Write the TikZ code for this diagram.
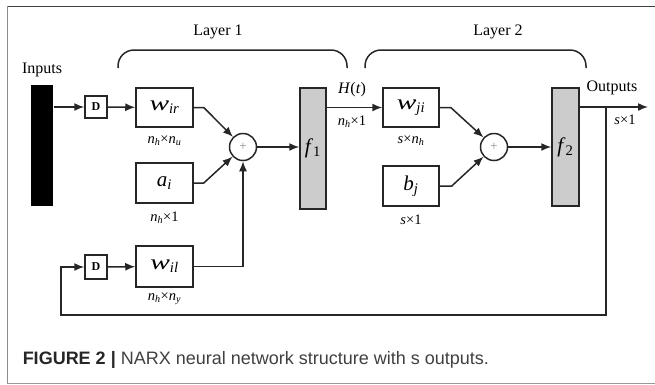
\documentclass[tikz,border=0pt]{standalone}
\usepackage{fontspec}
\setmainfont{Liberation Serif}
\newfontfamily\capfont{Liberation Sans}
\usepackage{graphicx}
\usetikzlibrary{arrows.meta}
\usetikzlibrary{positioning}

\newcommand{\vsub}[2]{\textit{#1}\textsubscript{\textit{#2}}}
\newcommand{\wideW}{\scalebox{1.4}[1]{\textit{w}}}

\begin{document}
\begin{tikzpicture}[x=1pt,y=-1pt,>={Latex[length=10pt,width=8pt]},line width=1.5pt,
                    draw=black!85,node distance=6pt,
                    every node/.style={font=\fontsize{16}{18}\selectfont}]
  \tikzstyle{block}=[draw,minimum width=57pt,minimum height=40pt,inner sep=0pt,font=\fontsize{21}{24}\selectfont]
  \tikzstyle{delay}=[draw,minimum width=22pt,minimum height=22pt,inner sep=0pt,font=\bfseries\fontsize{12}{14}\selectfont]
  \tikzstyle{sum}=[draw,circle,minimum size=27pt,inner sep=0pt,text=black!45,font=\fontsize{13}{14}\selectfont]
  \tikzstyle{func}=[draw,fill=black!20,minimum width=26pt,minimum height=120pt,inner sep=0pt,font=\fontsize{21}{22}\selectfont]
  \tikzstyle{dim}=[inner sep=1pt,font=\fontsize{14.5}{16}\selectfont]
  \tikzstyle{brace}=[rounded corners=16pt]

  \useasboundingbox (0,0) rectangle (655,384);
  \draw[line width=1pt,black!75] (655,6) -- (7,6);
  \draw[line width=1pt,black!45] (7,6) -- (7,383);
  \draw[line width=1pt,black!40] (7,383) -- (655,383);

  % layer 1
  \node[fill=black,minimum width=22pt,minimum height=121pt,inner sep=0pt] (bar) at (42,145.5) {};
  \node (inlbl) at (42,70) {Inputs};
  \node[delay] (D1) at (96,107) {D};
  \node[block,minimum height=39pt] (wir) at (164.5,107.5) {\wideW\textsubscript{\textit{ir}}};
  \node[block] (ai) at (164.5,183) {\vsub{a}{i}};
  \node[block,minimum height=41pt] (wil) at (164.5,266.5) {\wideW\textsubscript{\textit{il}}};
  \node[delay,minimum height=24pt] (D2) at (96,267) {D};
  \node[sum] (sum1) at (243,147) {+};
  \node[func,minimum height=121pt] (f1) at (313,148.5) {\vsub{f}{\upshape 1}};
  \node[dim,below=of wir] (wirdim) {\vsub{n}{h}×\vsub{n}{u}};
  \node[dim,below=of ai] (aidim) {\vsub{n}{h}×1};
  \node[dim,below=3pt of wil] (wildim) {\vsub{n}{h}×\vsub{n}{y}};

  % layer 2
  \node[block,minimum width=56pt,minimum height=39pt] (wji) at (411,107.5) {\wideW\textsubscript{\textit{ji}}};
  \node[block,minimum width=56pt] (bj) at (411,186) {\vsub{b}{j}};
  \node[sum] (sum2) at (494,147) {+};
  \node[func,minimum width=27pt,minimum height=118pt] (f2) at (565.5,147) {\vsub{f}{\upshape 2}};
  \node[dim,below=of wji] (wjidim) {\textit{s}×\vsub{n}{h}};
  \node[dim,below=of bj] (bjdim) {\textit{s}×1};
  \node (Ht) at (352,90) {\textit{H}(\textit{t})};
  \node[dim] (Htdim) at (352,122) {\vsub{n}{h}×1};
  \node (outlbl) at (612,88) {Outputs};
  \node[dim] (outdim) at (625,120) {\textit{s}×1};

  \node (lay1) at (218,32) {Layer 1};
  \node (lay2) at (498,32) {Layer 2};
  \draw[brace] (118,68) -- (118,50) -- (347,50) -- (347,68);
  \draw[brace] (365,68) -- (365,50) -- (586,50) -- (586,68);

  % connectors
  \coordinate (out) at (648,107);
  \coordinate (tap) at (606,107);
  \coordinate (fbR) at (606,315);
  \coordinate (fbL) at (61,315);
  \draw[->] (bar.east |- D1) -- (D1);
  \draw[->] (D1) -- (wir);
  \draw[->] (wir.east) -- ++(10,0) -- (sum1);
  \draw[->] (ai.east) -- ++(10,0) -- (sum1);
  \draw[->] (wil) -| (sum1);
  \draw[->] (sum1) -- (f1.west |- sum1);
  \draw[->] (f1.east |- wji) -- (wji);
  \draw[->] (wji.east) -- ++(11,0) -- (sum2);
  \draw[->] (bj.east) -- ++(12,0) -- (sum2);
  \draw[->] (sum2) -- (f2.west |- sum2);
  \draw[->] (f2.east |- out) -- (out);
  \draw[->] (tap) -- (fbR) -- (fbL) |- (D2);
  \draw[->] (D2) -- (wil);

  \node[anchor=west,inner sep=0pt,text=black!75,font=\capfont\fontsize{18}{20}\selectfont] (cap) at (22,360)
    {\textbf{\color{black!85}FIGURE 2 |} NARX neural network structure with s outputs.};
\end{tikzpicture}
\end{document}
